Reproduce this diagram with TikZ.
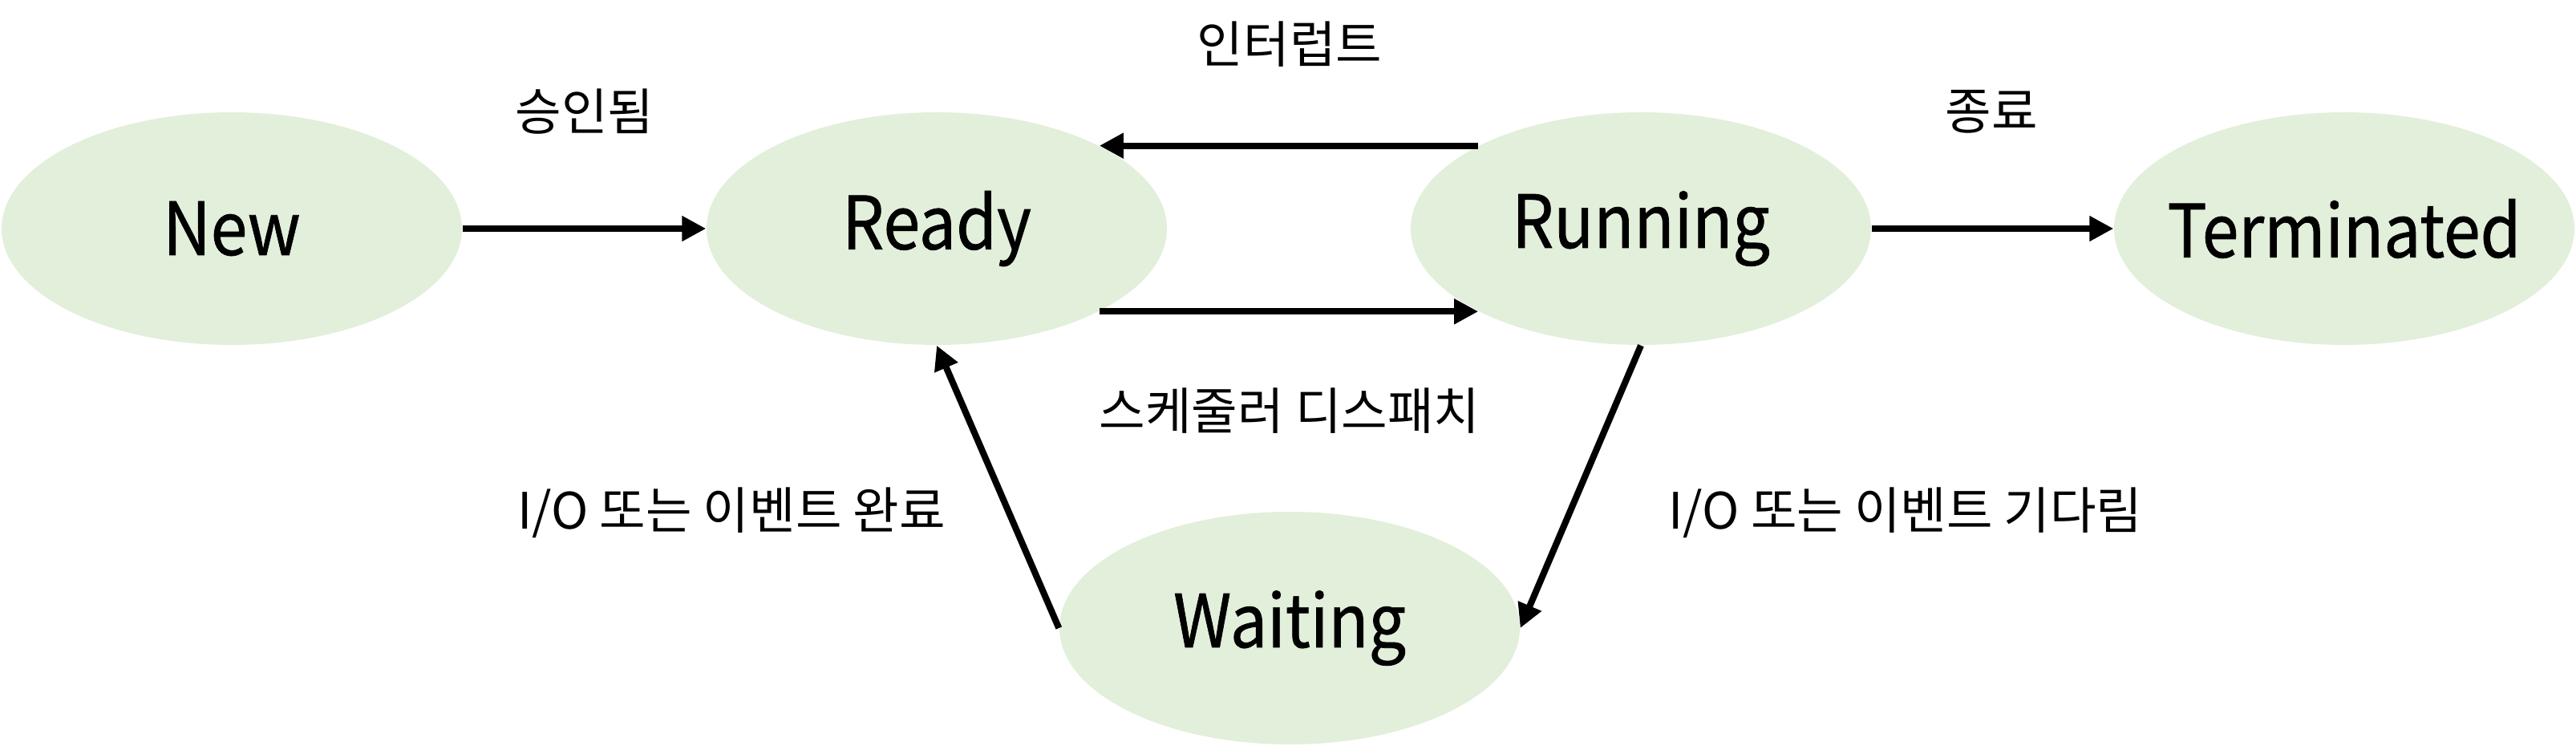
\documentclass[tikz,border=0pt]{standalone}
\usepackage{fontspec}
\setmainfont{Noto Sans CJK KR}
\newfontfamily\statefont[FakeStretch=0.9,FakeBold=0.8]{Noto Sans CJK KR}
\usetikzlibrary{shapes.geometric,arrows.meta}
\definecolor{stategreen}{HTML}{E2EFDA}
\begin{document}
\begin{tikzpicture}[
  state/.style={ellipse,fill=stategreen,minimum width=5.74cm,minimum height=2.9cm,
    inner xsep=-1cm,inner ysep=0pt,font=\statefont\fontsize{26}{30}\selectfont},
  lbl/.style={font=\fontsize{17.8}{21}\selectfont},
  arr/.style={line width=2.3pt,-{Triangle[length=0.3cm,width=0.3cm]}}]
\useasboundingbox (0,0) rectangle (32.12,-9.3);
% states
\node[state] (new) at (2.89,-2.85) {New};
\node[state] (ready) at (11.68,-2.85) {Ready};
\node[state] (run) at (20.46,-2.85) {Running};
\node[state] (term) at (29.23,-2.85) {Terminated};
\node[state] (wait) at (16.08,-7.83) {Waiting};
% transitions
\draw[arr] (new) -- (ready);
\draw[arr] (run.153) -- (ready.27);
\draw[arr] (ready.-27) -- (run.-153);
\draw[arr] (run) -- (term);
\draw[arr] (run.south) -- (wait.east);
\draw[arr] (wait.west) -- (ready.south);
% labels
\node[lbl] (ladmit) at (7.29,-1.39) {승인됨};
\node[lbl] (lintr) at (16.08,-0.55) {인터럽트};
\node[lbl] (lexit) at (24.83,-1.39) {종료};
\node[lbl] (ldisp) at (16.08,-5.12) {스케줄러 디스패치};
\node[lbl] (ldone) at (9.12,-6.39) {I/O 또는 이벤트 완료};
\node[lbl] (lwait) at (23.76,-6.39) {I/O 또는 이벤트 기다림};
\end{tikzpicture}
\end{document}
